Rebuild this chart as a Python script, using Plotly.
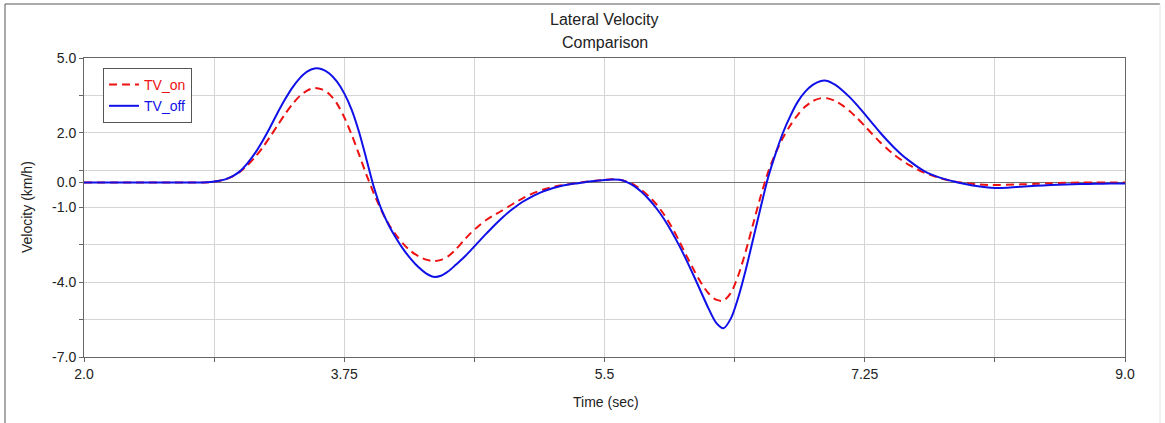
import plotly.graph_objects as go

# Sample times (s)
time_s = [
    2.00, 2.40, 2.60, 2.70, 2.75,
    2.80, 2.85, 2.90, 2.95, 3.00, 3.05, 3.10, 3.15, 3.20, 3.25,
    3.30, 3.35, 3.40, 3.45, 3.50, 3.55, 3.60, 3.65, 3.70, 3.75,
    3.80, 3.85, 3.90, 3.95, 4.00, 4.05, 4.10, 4.15, 4.20, 4.25,
    4.30, 4.35, 4.40, 4.45, 4.50, 4.55, 4.60, 4.65, 4.70, 4.75,
    4.80, 4.85, 4.90, 4.95, 5.00, 5.05, 5.10, 5.15, 5.20, 5.25,
    5.30, 5.35, 5.40, 5.45, 5.50, 5.55, 5.60, 5.65, 5.70, 5.75,
    5.80, 5.85, 5.90, 5.95, 6.00, 6.05, 6.10, 6.15, 6.20, 6.25,
    6.30, 6.35, 6.40, 6.45, 6.50, 6.55, 6.60, 6.65, 6.70, 6.75,
    6.80, 6.85, 6.90, 6.95, 7.00, 7.05, 7.10, 7.15, 7.20, 7.25,
    7.30, 7.35, 7.40, 7.45, 7.50, 7.55, 7.60, 7.65, 7.70, 7.75,
    7.80, 7.85, 7.90, 7.95, 8.00, 8.05, 8.10, 8.15, 8.20,
    8.30, 8.40, 8.50, 8.60, 8.70, 8.80, 8.90, 9.00,
]

# Lateral velocity with torque vectoring on (km/h)
tv_on = [
    0.00, 0.00, 0.00, 0.00, 0.00,
    0.00, 0.02, 0.06, 0.13, 0.25, 0.44, 0.70, 1.02, 1.40, 1.83,
    2.28, 2.73, 3.14, 3.47, 3.69, 3.80, 3.74, 3.55, 3.18, 2.62,
    1.92, 1.12, 0.30, -0.45, -1.12, -1.68, -2.12, -2.48, -2.76, -2.96,
    -3.09, -3.15, -3.10, -2.95, -2.68, -2.35, -2.03, -1.76, -1.52, -1.33,
    -1.16, -0.98, -0.80, -0.63, -0.48, -0.36, -0.26, -0.18, -0.12, -0.07,
    -0.03, 0.01, 0.05, 0.08, 0.11, 0.13, 0.11, 0.04, -0.09, -0.30,
    -0.56, -0.88, -1.28, -1.76, -2.32, -2.92, -3.50, -4.03, -4.45, -4.70,
    -4.74, -4.42, -3.72, -2.75, -1.65, -0.55, 0.42, 1.18, 1.80, 2.30,
    2.72, 3.05, 3.27, 3.38, 3.38, 3.28, 3.10, 2.86, 2.58, 2.27,
    1.95, 1.64, 1.36, 1.11, 0.89, 0.70, 0.54, 0.40, 0.29, 0.19,
    0.11, 0.05, 0.00, -0.04, -0.07, -0.09, -0.10, -0.10, -0.09,
    -0.07, -0.05, -0.03, -0.01, 0.00, 0.00, 0.00, 0.00,
]

# Lateral velocity with torque vectoring off (km/h)
tv_off = [
    0.00, 0.00, 0.00, 0.00, 0.00,
    0.00, 0.02, 0.06, 0.13, 0.26, 0.46, 0.78, 1.18, 1.66, 2.20,
    2.78, 3.32, 3.80, 4.18, 4.45, 4.58, 4.55, 4.38, 4.06, 3.58,
    2.92, 2.02, 0.92, -0.20, -1.08, -1.72, -2.24, -2.70, -3.08, -3.40,
    -3.64, -3.78, -3.74, -3.56, -3.30, -3.03, -2.72, -2.40, -2.08, -1.77,
    -1.48, -1.21, -0.98, -0.77, -0.60, -0.45, -0.33, -0.23, -0.15, -0.09,
    -0.04, 0.00, 0.04, 0.07, 0.10, 0.12, 0.11, 0.02, -0.14, -0.38,
    -0.68, -1.04, -1.46, -1.95, -2.50, -3.10, -3.74, -4.40, -5.06, -5.62,
    -5.85, -5.45, -4.60, -3.50, -2.25, -1.00, 0.20, 1.15, 2.00, 2.68,
    3.25, 3.65, 3.92, 4.07, 4.08, 3.93, 3.70, 3.42, 3.10, 2.75,
    2.39, 2.03, 1.70, 1.39, 1.11, 0.87, 0.65, 0.46, 0.32, 0.21,
    0.12, 0.04, -0.03, -0.09, -0.14, -0.18, -0.21, -0.22, -0.21,
    -0.17, -0.13, -0.10, -0.08, -0.06, -0.05, -0.04, -0.04,
]

# Axis ticks and labels
x_tickvals = [2.0, 2.875, 3.75, 4.625, 5.5, 6.375, 7.25, 8.125, 9.0]
x_ticktext = ["2.0", "", "3.75", "", "5.5", "", "7.25", "", "9.0"]
y_tickvals = [-7.0, -5.5, -4.0, -2.5, -1.0, 0.0, 0.5, 2.0, 3.5, 5.0]
y_ticktext = ["-7.0", "", "-4.0", "", "-1.0", "0.0", "", "2.0", "", "5.0"]

FONT = "Liberation Sans, Arial, sans-serif"
RED = "#ee1111"
BLUE = "#1010e8"
TEXT = "#222222"

fig = go.Figure()
fig.add_trace(go.Scatter(
    x=time_s, y=tv_on, mode="lines",
    name=f"<span style='color:{RED}'>TV_on</span>",
    line=dict(color=RED, width=2, dash="8px,5px", shape="spline", smoothing=0.8),
))
fig.add_trace(go.Scatter(
    x=time_s, y=tv_off, mode="lines",
    name=f"<span style='color:{BLUE}'>TV_off</span>",
    line=dict(color=BLUE, width=2, shape="spline", smoothing=0.8),
))

axis_common = dict(
    showline=True, linecolor="#666666", linewidth=1, mirror=True,
    showgrid=True, gridcolor="#d4d4d4", gridwidth=1,
    ticks="outside", ticklen=4, tickcolor="#666666",
    tickfont=dict(family=FONT, size=14, color=TEXT),
)

fig.update_xaxes(
    range=[2.0, 9.0], tickmode="array", tickvals=x_tickvals, ticktext=x_ticktext,
    zeroline=False, **axis_common,
)
fig.update_yaxes(
    range=[-7.0, 5.0], tickmode="array", tickvals=y_tickvals, ticktext=y_ticktext,
    zeroline=True, zerolinecolor="#707070", zerolinewidth=1,
    **axis_common,
)

W, H = 1165, 423
L, R, T, B = 84, 40, 58, 66
pw, ph = W - L - R, H - T - B


def px_x(px):
    return (px - L) / pw


def px_y(py):
    return (H - B - py) / ph


def label(text, x, y, size, angle=0):
    return dict(text=text, x=x, y=y, xref="paper", yref="paper",
                showarrow=False, xanchor="center", yanchor="middle",
                textangle=angle, font=dict(family=FONT, size=size, color=TEXT))


annotations = [
    label("Lateral Velocity", 0.5, px_y(19), 16),
    label("Comparison", 0.5, px_y(42), 16),
    label("Time (sec)", px_x(606), px_y(402), 14),
    label("Velocity (km/h)", px_x(27), px_y(207), 14, angle=-90),
]

shapes = [
    # outer frame
    dict(type="line", xref="paper", yref="paper",
         x0=px_x(5), x1=px_x(5), y0=px_y(4), y1=px_y(440),
         line=dict(color="#555555", width=1)),
    dict(type="line", xref="paper", yref="paper",
         x0=px_x(5), x1=px_x(1160), y0=px_y(4), y1=px_y(4),
         line=dict(color="#555555", width=1)),
    dict(type="line", xref="paper", yref="paper",
         x0=px_x(1160), x1=px_x(1160), y0=px_y(4), y1=px_y(440),
         line=dict(color="#e4e4e4", width=1)),
]

fig.update_layout(
    width=W, height=H,
    margin=dict(l=L, r=R, t=T, b=B, pad=0),
    paper_bgcolor="white", plot_bgcolor="white",
    showlegend=True,
    legend=dict(
        x=px_x(103), y=px_y(68), xanchor="left", yanchor="top",
        bgcolor="white", bordercolor="#555555", borderwidth=1,
        font=dict(family=FONT, size=14),
        tracegroupgap=0, itemwidth=30,
    ),
    annotations=annotations,
    shapes=shapes,
    font=dict(family=FONT),
)

fig.write_html("out.html")
